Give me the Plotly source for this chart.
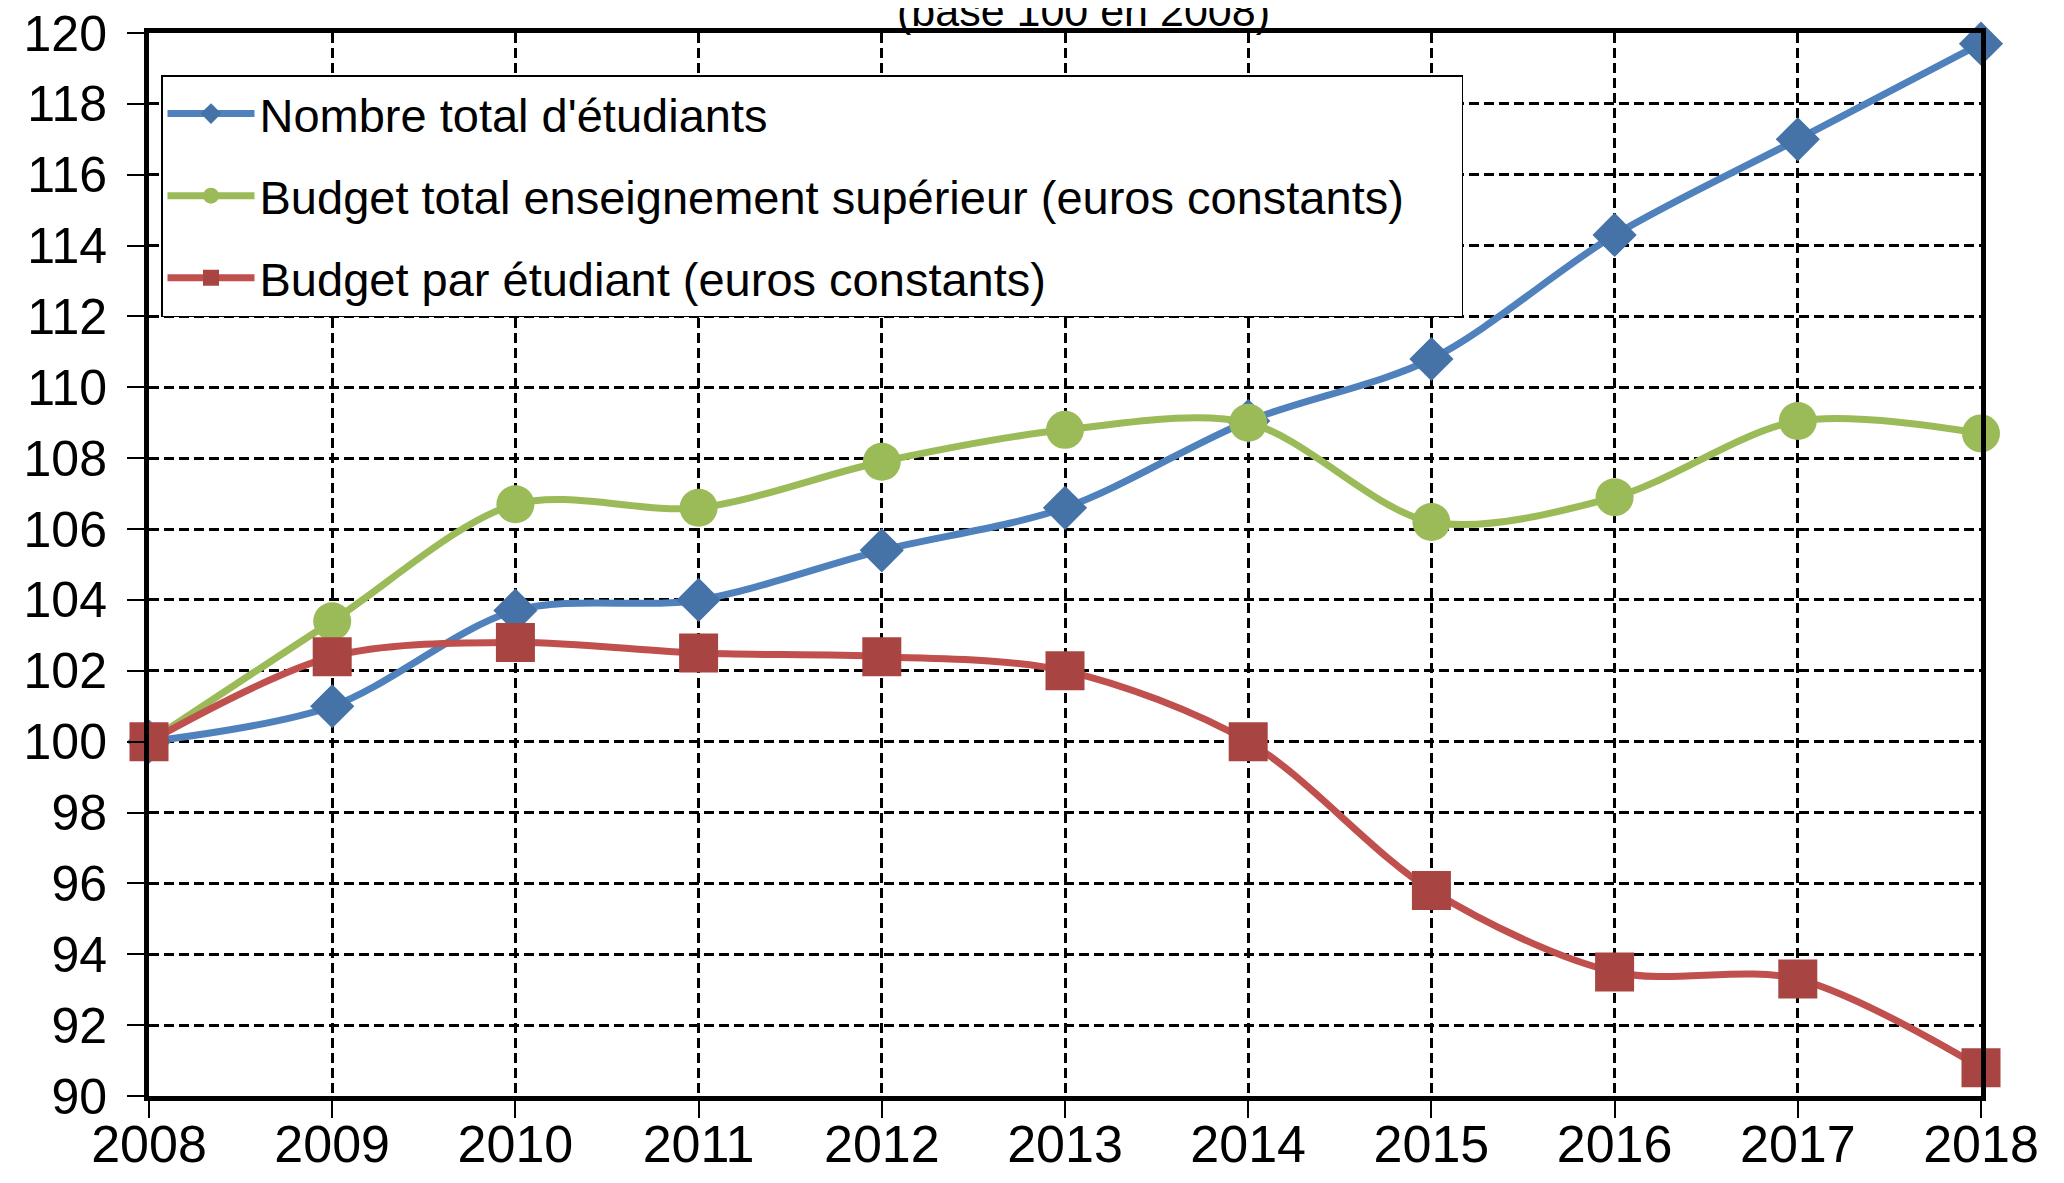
import plotly.graph_objects as go

years = [2008, 2009, 2010, 2011, 2012, 2013, 2014, 2015, 2016, 2017, 2018]
nombre_etudiants = [100, 101.0, 103.7, 104.0, 105.4, 106.6, 109.05, 110.8, 114.3, 117.0, 119.7]
budget_total = [100, 103.4, 106.7, 106.6, 107.9, 108.8, 109.0, 106.2, 106.9, 109.05, 108.7]
budget_par_etudiant = [100, 102.4, 102.8, 102.5, 102.4, 102.0, 100.0, 95.8, 93.5, 93.3, 90.8]
series_names = [
    "Nombre total d'étudiants",
    "Budget total enseignement supérieur (euros constants)",
    "Budget par étudiant (euros constants)",
]
title_text = "(base 100 en 2008)"
y_ticks = list(range(90, 121, 2))

FONT = "Liberation Sans, Arial, sans-serif"
PAD = "\u00a0" * 4  # right padding inside the legend box

fig = go.Figure()
specs = [
    (nombre_etudiants, "#4F81BD", "#4572A7", "diamond", 34),
    (budget_total, "#9BBB59", "#9BBB59", "circle", 38),
    (budget_par_etudiant, "#C0504D", "#A84543", "square", 39),
]
for i, ((vals, lc, mc, sym, sz), name) in enumerate(zip(specs, series_names)):
    fig.add_trace(go.Scatter(
        x=years, y=vals, name=name + (PAD if i == 1 else ""), mode="lines+markers",
        line=dict(color=lc, width=7, shape="spline", smoothing=0.9),
        marker=dict(color=mc, symbol=sym, size=sz, line=dict(width=0)),
        cliponaxis=False, legendgroup=f"g{i}",
    ))

axis_common = dict(
    showline=True, linecolor="black", linewidth=5, mirror=True,
    showgrid=True, gridcolor="black", gridwidth=3, griddash="10px,5px",
    ticks="outside", ticklen=17, tickwidth=2, tickcolor="black",
    zeroline=False, automargin=False, ticklabeloverflow="allow",
)
fig.update_xaxes(range=[2008, 2018], tickvals=years, ticktext=[str(y) for y in years],
                 ticklabelstandoff=-18, tickfont=dict(family=FONT, size=52, color="black"),
                 **axis_common)
fig.update_yaxes(range=[90, 120], tickvals=y_ticks, ticktext=[str(v) for v in y_ticks],
                 ticklabelstandoff=10, tickfont=dict(family=FONT, size=50, color="black"),
                 **axis_common)

fig.add_annotation(text=title_text, xref="paper", yref="paper", x=(1082 - 145) / 1836,
                   y=1.0, yanchor="bottom", xanchor="center", yshift=-4, showarrow=False,
                   font=dict(family=FONT, size=43, color="black"))

fig.update_layout(
    width=2064, height=1183,
    margin=dict(l=141, r=91, t=25, b=95),
    plot_bgcolor="white", paper_bgcolor="white",
    font=dict(family=FONT, color="black"),
    legend=dict(
        x=(157 - 145) / 1832, y=1 - 42 / 1063, xanchor="left", yanchor="top",
        bgcolor="white", bordercolor="black", borderwidth=1.5,
        font=dict(family=FONT, size=47, color="black"),
        traceorder="grouped", tracegroupgap=18, itemwidth=87,
    ),
    showlegend=True,
)

fig.write_html("out.html")
